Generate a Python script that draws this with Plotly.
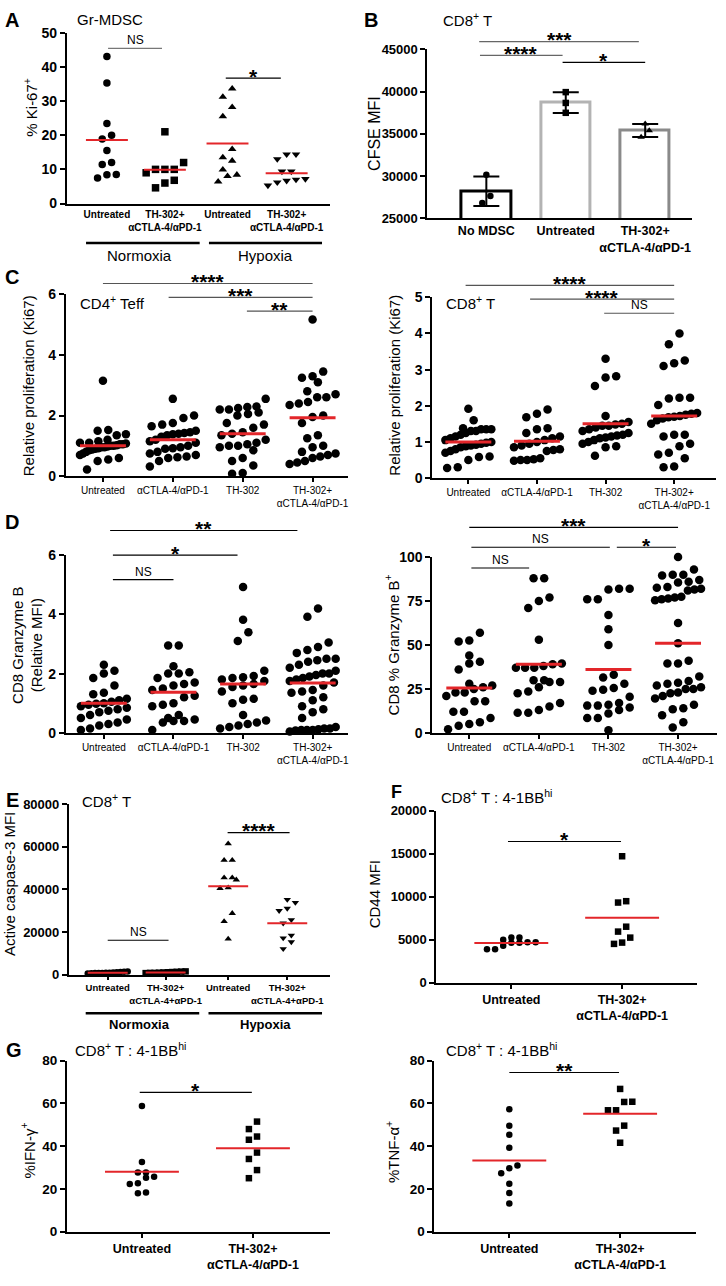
import plotly.graph_objects as go

W, H = 726, 1286
FONT = "Liberation Sans, Arial, sans-serif"
RED = "#e3262a"
TH_LBL = "TH-302+<br>αCTLA-4/αPD-1"

# ---------------- data ----------------
# A: Gr-MDSC %Ki-67+
a_labels = ["Untreated", TH_LBL, "Untreated", TH_LBL]
a_norm_untr = [43, 35.3, 23.4, 20, 18.9, 15.5, 12, 11.4, 8.5, 7.5, 8.4]
a_norm_th = [21, 12, 10, 10, 10, 9, 6.8, 6, 4.6]
a_hyp_untr = [31.2, 33.6, 28.2, 25.5, 15.9, 13.5, 12.5, 9.9, 8.4, 8.0, 6.4]
a_hyp_th = [14.4, 14.4, 13, 9.4, 9.4, 7.2, 7, 6.7, 5.3, 6.2]
a_means = [18.6, 9.9, 17.6, 8.9]

# B: CFSE MFI
b_labels = ["No MDSC", "Untreated", TH_LBL]
b_no_mdsc = [30160, 27640, 26830]
b_untr = [39950, 38670, 37500]
b_th = [36200, 35400, 34630]
b_means = [28200, 38700, 35400]
b_sd = [1750, 1230, 780]

# C: relative proliferation (Ki67)
c_labels = ["Untreated", "αCTLA-4/αPD-1", "TH-302", TH_LBL]
c4_untr = [3.15, 1.52, 1.5, 1.38, 1.35, 1.2, 1.15, 1.1, 1.1, 1.08, 1.05, 1.05, 1.02, 1.0, 1.0,
           0.98, 0.95, 0.95, 0.92, 0.9, 0.88, 0.85, 0.8, 0.75, 0.7, 0.6, 0.55, 0.5, 0.22]
c4_ctla = [2.55, 2.0, 1.92, 1.75, 1.7, 1.65, 1.5, 1.45, 1.42, 1.4, 1.38, 1.35, 1.3, 1.2, 1.15,
           1.1, 1.0, 0.95, 0.92, 0.9, 0.8, 0.75, 0.7, 0.65, 0.62, 0.6, 0.5, 0.32]
c4_th = [2.55, 2.3, 2.28, 2.25, 2.2, 2.2, 2.1, 2.05, 2.0, 1.75, 1.7, 1.6, 1.45, 1.4, 1.35, 1.2,
         1.1, 1.05, 1.0, 1.0, 0.95, 0.85, 0.6, 0.5, 0.35, 0.1, 0.08]
c4_combo = [5.17, 3.45, 3.3, 3.25, 3.1, 2.8, 2.7, 2.6, 2.6, 2.45, 2.4, 2.35, 2.0, 1.95, 1.75,
            1.35, 1.25, 1.0, 0.95, 0.8, 0.75, 0.7, 0.65, 0.6, 0.5, 0.45, 0.4]
c4_means = [1.0, 1.2, 1.4, 1.93]

c8_untr = [1.92, 1.6, 1.38, 1.35, 1.35, 1.35, 1.3, 1.3, 1.25, 1.2, 1.15, 1.1, 1.05, 1.0, 0.98,
           0.95, 0.92, 0.9, 0.88, 0.85, 0.8, 0.75, 0.7, 0.6, 0.58, 0.5, 0.3, 0.28]
c8_ctla = [1.9, 1.78, 1.68, 1.38, 1.35, 1.25, 1.15, 1.1, 1.05, 1.0, 0.95, 0.9, 0.85, 0.8, 0.78,
           0.75, 0.55, 0.52, 0.5, 0.5, 0.48]
c8_th = [3.3, 2.82, 2.78, 2.55, 1.72, 1.55, 1.5, 1.48, 1.45, 1.45, 1.4, 1.35, 1.3, 1.25, 1.2,
         1.18, 1.15, 1.12, 1.1, 1.05, 1.0, 0.95, 0.88, 0.85, 0.62]
c8_combo = [4.0, 3.7, 3.25, 3.1, 3.18, 2.22, 2.2, 2.22, 2.02, 1.8, 1.78, 1.75, 1.72, 1.7, 1.68,
            1.65, 1.6, 1.5, 1.2, 1.2, 1.15, 0.95, 0.88, 0.7, 0.65, 0.55, 0.32, 0.3]
c8_means = [1.0, 1.02, 1.5, 1.72]

# D: granzyme B
d_labels = c_labels
dg_untr = [2.3, 2.1, 2.0, 1.85, 1.6, 1.35, 1.3, 1.15, 1.1, 1.05, 1.0, 0.98, 0.95, 0.9, 0.85,
           0.8, 0.75, 0.7, 0.6, 0.5, 0.45, 0.35, 0.3, 0.25, 0.15, 0.1]
dg_ctla = [2.95, 2.95, 2.25, 2.05, 2.0, 2.0, 1.85, 1.7, 1.65, 1.6, 1.5, 1.45, 1.25, 1.2, 1.0,
           0.95, 0.9, 0.6, 0.5, 0.45, 0.4, 0.4, 0.35, 0.1]
dg_th = [4.92, 3.82, 3.4, 3.1, 2.1, 1.92, 1.88, 1.85, 1.8, 1.75, 1.65, 1.6, 1.55, 1.4, 1.15,
         1.12, 1.0, 0.6, 0.42, 0.35, 0.3, 0.25, 0.2, 0.15]
dg_combo = [4.2, 3.92, 3.05, 2.9, 2.8, 2.7, 2.5, 2.5, 2.45, 2.4, 2.3, 2.2, 2.1, 2.0, 2.0, 1.95,
            1.9, 1.85, 1.8, 1.75, 1.7, 1.6, 1.45, 1.4, 1.35, 1.2, 1.1, 0.9, 0.8, 0.7, 0.5, 0.2,
            0.15, 0.15, 0.12, 0.1, 0.1, 0.1, 0.08, 0.05]
dg_means = [1.0, 1.37, 1.65, 1.68]

dp_untr = [57, 52.5, 52, 44, 40.5, 39.5, 36, 28, 27, 26, 25, 23, 23, 21, 18, 18, 12, 12, 8.5,
           6, 5, 4, 2]
dp_ctla = [88, 88, 77, 75, 71, 53, 39.5, 39, 38, 37, 37, 37, 30, 30, 29, 29, 26, 23.5, 22.5, 17,
           15, 13, 11.5, 11.5]
dp_th = [82, 82, 81.5, 76, 76, 67, 59, 50, 33, 31.5, 28, 25.5, 24.5, 24, 20.5, 17, 16, 15.5,
         15.5, 14.5, 13, 11, 8.5, 8.5, 1.5]
dp_combo = [100, 93, 90, 90, 89.5, 87, 86, 85.5, 83, 82.5, 82, 81.5, 81, 77.5, 77, 76.5, 76,
            75.5, 62.5, 51, 41, 39.5, 39.5, 32, 29.5, 28.5, 28, 27, 26, 25, 25, 23, 22.5, 21,
            19.5, 16, 14, 13.5, 10, 6, 3]
dp_means = [25.5, 39, 36, 51]

# E: active caspase-3 MFI
e_labels = ["Untreated", "TH-302+<br>αCTLA-4+αPD-1", "Untreated", "TH-302+<br>αCTLA-4+αPD-1"]
e_norm_untr = [1500, 1400, 1300, 1200, 1100, 1000, 1000, 900, 800, 800, 700, 600]
e_norm_th = [1600, 1500, 1400, 1300, 1200, 1100, 1000, 900, 900, 800]
e_hyp_untr = [61400, 53700, 53700, 44500, 45500, 45500, 40500, 40800, 28800, 25000, 16800]
e_hyp_th = [35250, 33860, 31090, 30020, 24160, 25730, 18480, 17230, 15380, 12150]
e_means = [1000, 1100, 41500, 24200]

# F: CD44 MFI
f_labels = ["Untreated", TH_LBL]
f_untr = [4700, 4650, 4300, 5250, 5250, 3900, 3900, 4650, 4700, 5000]
f_th = [14720, 9330, 9490, 6520, 5950, 5250, 4520, 4670]
f_means = [4630, 7560]

# G: %IFN-g+ and %TNF-a+
g_labels = f_labels
g_ifn_untr = [58.8, 32.6, 27.7, 27.7, 25.7, 25.2, 22.3, 22.6, 18, 18.3]
g_ifn_th = [51.5, 48, 44.5, 43, 37, 34, 28.8, 25]
g_ifn_means = [28, 39]
g_tnf_untr = [57.3, 49.6, 45.3, 39.3, 30.9, 29.6, 27.3, 22.4, 18.1, 13.2]
g_tnf_th = [66.8, 60.7, 60.8, 56.8, 56.8, 49.6, 47.3, 41.6]
g_tnf_means = [33.3, 55.2]

# ---------------- panel geometry (pixels) ----------------
panels = {
    "A": dict(idx=1, box=(67, 330, 25, 198), xr=(-0.69, 3.84), yr=(0, 50), pos=[0, 1, 2.08, 3.1]),
    "B": dict(idx=2, box=(428, 693, 42, 213), xr=(-0.742, 2.59), yr=(25000, 45000), pos=[0, 1, 2]),
    "C1": dict(idx=3, box=(66, 348, 290, 474), xr=(-0.53, 3.5), yr=(0, 6), pos=[0, 1, 2, 3]),
    "C2": dict(idx=4, box=(433, 717, 293, 476), xr=(-0.524, 3.61), yr=(0, 5), pos=[0, 1, 2, 3]),
    "D1": dict(idx=5, box=(66, 348, 554, 734), xr=(-0.545, 3.5), yr=(0, 6), pos=[0, 1, 2, 3]),
    "D2": dict(idx=6, box=(433, 718, 556, 734), xr=(-0.53, 3.56), yr=(0, 100), pos=[0, 1, 2, 3]),
    "E": dict(idx=7, box=(69, 330, 806, 979), xr=(-0.67, 3.83), yr=(0, 80000), pos=[0, 1, 2.08, 3.1]),
    "F": dict(idx=8, box=(437, 698, 813, 987), xr=(-0.676, 1.676), yr=(0, 20000), pos=[0, 1]),
    "G1": dict(idx=9, box=(67, 330, 1066, 1239), xr=(-0.676, 1.69), yr=(0, 80), pos=[0, 1]),
    "G2": dict(idx=10, box=(435, 697, 1066, 1239), xr=(-0.676, 1.685), yr=(0, 80), pos=[0, 1]),
}


def sfx(p):
    return "" if p["idx"] == 1 else str(p["idx"])


def scales(p):
    l, r, t, b = p["box"]
    x0, x1 = p["xr"]
    y0, y1 = p["yr"]
    return (r - l) / (x1 - x0), (b - t) / (y1 - y0)


def to_paper(p, xv, yv):
    l, r, t, b = p["box"]
    xpx, ypx = scales(p)
    px = l + (xv - p["xr"][0]) * xpx
    py = b - (yv - p["yr"][0]) * ypx
    return px / W, 1 - py / H


def swarm_offsets(vals, ypx, xpx, dot, max_w):
    # Prism-like column scatter: rows of near-equal values spread symmetrically
    order = sorted(range(len(vals)), key=lambda i: vals[i])
    off = [0.0] * len(vals)
    rows = []
    for i in order:
        if rows and (vals[i] - vals[rows[-1][0]]) * ypx < dot * 1.4:
            rows[-1].append(i)
        else:
            rows.append([i])
    for row in rows:
        k = len(row)
        step = min(dot * 1.25, max_w / (k - 1)) if k > 1 else 0
        for j, i in enumerate(row):
            off[i] = (j - (k - 1) / 2) * step / xpx
    return off


fig = go.Figure()
shapes = []
annotations = []


def setup_axes(p, labels, yticks, ytick_size, xtick_size, xtick_bold, xticklen):
    l, r, t, b = p["box"]
    s = sfx(p)
    fig.update_layout({
        "xaxis" + s: dict(domain=[l / W, r / W], range=list(p["xr"]), anchor="y" + s,
                          showline=True, linecolor="black", linewidth=2, showgrid=False,
                          zeroline=False, tickmode="array", tickvals=p["pos"], ticktext=labels,
                          tickangle=0,
                          ticks="outside" if xticklen else "", ticklen=xticklen, tickwidth=2,
                          tickcolor="black",
                          tickfont=dict(family=FONT, size=xtick_size, color="black",
                                        weight="bold" if xtick_bold else "normal"),
                          fixedrange=True),
        "yaxis" + s: dict(domain=[1 - b / H, 1 - t / H], range=list(p["yr"]), anchor="x" + s,
                          showline=True, linecolor="black", linewidth=2, showgrid=False,
                          zeroline=False, tickmode="array", tickvals=yticks,
                          ticktext=[str(v) for v in yticks], ticks="outside",
                          ticklen=5, tickwidth=2, tickcolor="black",
                          tickfont=dict(family=FONT, size=ytick_size, color="black", weight="bold"),
                          fixedrange=True),
    })


def add_dots(p, groups, symbols, size, max_w, means, mean_hw, mean_w):
    s = sfx(p)
    xpx, ypx = scales(p)
    for pos, vals, sym in zip(p["pos"], groups, symbols):
        off = swarm_offsets(vals, ypx, xpx, size, max_w)
        fig.add_trace(go.Scatter(x=[pos + o for o in off], y=vals, mode="markers",
                                 marker=dict(symbol=sym, size=size, color="black", line=dict(width=0)),
                                 xaxis="x" + s, yaxis="y" + s, cliponaxis=False, hoverinfo="skip"))
    hw = mean_hw / xpx
    for pos, m in zip(p["pos"], means):
        fig.add_trace(go.Scatter(x=[pos - hw, pos + hw], y=[m, m], mode="lines",
                                 line=dict(color=RED, width=mean_w),
                                 xaxis="x" + s, yaxis="y" + s, hoverinfo="skip"))


def bracket(p, x0, x1, y, label, color="black", lw=1.2):
    ax, ay = to_paper(p, x0, y)
    bx, _ = to_paper(p, x1, y)
    shapes.append(dict(type="line", xref="paper", yref="paper", x0=ax, x1=bx, y0=ay, y1=ay,
                       line=dict(color=color, width=lw)))
    if label == "NS":
        font = dict(family=FONT, size=12, color="black")
        shift = 8
    else:
        font = dict(family=FONT, size=21, color="black", weight="bold")
        shift = 2
    annotations.append(dict(x=(ax + bx) / 2, y=ay, xref="paper", yref="paper", text=label,
                            showarrow=False, font=font, xanchor="center", yanchor="middle",
                            yshift=shift))


def text(px, py, s, size, bold=False, xanchor="left", angle=0):
    annotations.append(dict(x=px / W, y=1 - py / H, xref="paper", yref="paper", text=s,
                            showarrow=False, textangle=angle, xanchor=xanchor, yanchor="middle",
                            font=dict(family=FONT, size=size, color="black",
                                      weight="bold" if bold else "normal")))


def group_bar(p, x0, x1, py):
    a, _ = to_paper(p, x0, p["yr"][0])
    b, _ = to_paper(p, x1, p["yr"][0])
    shapes.append(dict(type="line", xref="paper", yref="paper", x0=a, x1=b,
                       y0=1 - py / H, y1=1 - py / H, line=dict(color="black", width=2.5)))


# ---------------- A ----------------
p = panels["A"]
setup_axes(p, a_labels, [0, 10, 20, 30, 40, 50], 14, 10, True, 0)
add_dots(p, [a_norm_untr, a_norm_th, a_hyp_untr, a_hyp_th],
         ["circle", "square", "triangle-up", "triangle-down"], 7.5, 40, a_means, 21, 2)
bracket(p, 0.02, 0.95, 45.4, "NS", color="#777777")
bracket(p, 2.05, 3.0, 36.7, "*")
group_bar(p, -0.36, 1.6, 238)
group_bar(p, 1.76, 3.71, 238)
text(140, 251, "Normoxia", 15, xanchor="center")
text(266, 251, "Hypoxia", 15, xanchor="center")
text(3, 12, "A", 20, bold=True)
text(75, 12, "Gr-MDSC", 15)
text(31, 100, "% Ki-67<sup>+</sup>", 15, xanchor="center", angle=-90)

# ---------------- B ----------------
p = panels["B"]
setup_axes(p, b_labels, [25000, 30000, 35000, 40000, 45000], 13, 12.5, True, 0)
fig.add_trace(go.Bar(x=p["pos"], y=b_means, width=0.62, xaxis="x2", yaxis="y2",
                     marker=dict(color="white", line=dict(color=["black", "#b3b3b3", "#8a8a8a"], width=3)),
                     error_y=dict(type="data", array=b_sd, color="black", thickness=2, width=13),
                     hoverinfo="skip"))
add_dots(p, [b_no_mdsc, b_untr, b_th], ["circle", "square", "triangle-up"], 6.5, 30,
         [], 0, 0)
bracket(p, -0.09, 1.92, 45936, "***", color="#666666")
bracket(p, -0.08, 0.96, 44298, "****", color="#666666")
bracket(p, 0.96, 2.0, 43480, "*")
text(362, 12, "B", 20, bold=True)
text(442, 12, "CD8<sup>+</sup> T", 15)
text(375, 127, "CFSE MFI", 16, xanchor="center", angle=-90)

# ---------------- C ----------------
p = panels["C1"]
setup_axes(p, c_labels, [0, 2, 4, 6], 14, 10, False, 4)
add_dots(p, [c4_untr, c4_ctla, c4_th, c4_combo], ["circle"] * 4, 8.5, 46, c4_means, 23, 3)
bracket(p, 0.0, 3.0, 6.36, "****", color="#555555")
bracket(p, 0.94, 3.0, 5.90, "***", color="#555555")
bracket(p, 2.06, 3.0, 5.45, "**", color="#555555")
text(3, 272, "C", 20, bold=True)
text(78, 298, "CD4<sup>+</sup> Teff", 15)
text(28, 382, "Relative proliferation (Ki67)", 15, xanchor="center", angle=-90)

p = panels["C2"]
setup_axes(p, c_labels, [0, 1, 2, 3, 4, 5], 14, 10, False, 4)
add_dots(p, [c8_untr, c8_ctla, c8_th, c8_combo], ["circle"] * 4, 8.5, 46, c8_means, 23, 3)
bracket(p, -0.04, 3.0, 5.33, "****", color="#555555")
bracket(p, 0.9, 3.0, 4.95, "****", color="#555555")
bracket(p, 1.98, 3.0, 4.56, "NS", color="#555555")
text(445, 298, "CD8<sup>+</sup> T", 15)
text(395, 382, "Relative proliferation (Ki67)", 15, xanchor="center", angle=-90)

# ---------------- D ----------------
p = panels["D1"]
setup_axes(p, d_labels, [0, 2, 4, 6], 14, 10, False, 4)
add_dots(p, [dg_untr, dg_ctla, dg_th, dg_combo], ["circle"] * 4, 8.5, 46, dg_means, 23, 3)
bracket(p, 0.09, 2.78, 6.83, "**")
bracket(p, 0.13, 1.92, 6.0, "*")
bracket(p, 0.13, 1.0, 5.17, "NS")
text(3, 520, "D", 20, bold=True)
text(28, 645, "CD8 Granzyme B<br>(Relative MFI)", 15, xanchor="center", angle=-90)

p = panels["D2"]
setup_axes(p, d_labels, [0, 25, 50, 75, 100], 14, 10, False, 4)
add_dots(p, [dp_untr, dp_ctla, dp_th, dp_combo], ["circle"] * 4, 8.5, 46, dp_means, 23, 3)
bracket(p, 0.0, 3.0, 116.9, "***")
bracket(p, 0.03, 2.02, 105.6, "NS")
bracket(p, 2.12, 2.97, 105.6, "*")
bracket(p, 0.03, 0.86, 93.8, "NS")
text(393, 645, "CD8 % Granzyme B<sup>+</sup>", 15, xanchor="center", angle=-90)

# ---------------- E ----------------
p = panels["E"]
setup_axes(p, e_labels, [0, 20000, 40000, 60000, 80000], 13, 9.5, True, 3)
add_dots(p, [e_norm_untr, e_norm_th, e_hyp_untr, e_hyp_th],
         ["circle", "square", "triangle-up", "triangle-down"], 6.5, 40, e_means, 20, 2)
bracket(p, 2.07, 3.14, 66590, "****")
bracket(p, 0.0, 1.05, 16185, "NS")
group_bar(p, -0.38, 1.58, 1018)
group_bar(p, 1.74, 3.7, 1018)
text(140, 1029, "Normoxia", 13, bold=True, xanchor="center")
text(266, 1029, "Hypoxia", 13, bold=True, xanchor="center")
text(4, 802, "E", 20, bold=True)
text(80, 802, "CD8<sup>+</sup> T", 15)
text(10, 887, "Active caspase-3 MFI", 15, xanchor="center", angle=-90)

# ---------------- F ----------------
p = panels["F"]
setup_axes(p, f_labels, [0, 5000, 10000, 15000, 20000], 13, 12.5, True, 4)
add_dots(p, [f_untr, f_th], ["circle", "square"], 6.5, 70, f_means, 37, 2)
bracket(p, -0.03, 0.99, 16437, "*")
text(390, 794, "F", 18, bold=True)
text(440, 798, "CD8<sup>+</sup> T : 4-1BB<sup>hi</sup>", 15)
text(375, 897, "CD44 MFI", 15, xanchor="center", angle=-90)

# ---------------- G ----------------
p = panels["G1"]
setup_axes(p, g_labels, [0, 20, 40, 60, 80], 13.5, 12.5, True, 4)
add_dots(p, [g_ifn_untr, g_ifn_th], ["circle", "square"], 6.5, 70, g_ifn_means, 37, 2)
bracket(p, -0.02, 0.99, 65.2, "*")
text(4, 1055, "G", 20, bold=True)
text(73, 1055, "CD8<sup>+</sup> T : 4-1BB<sup>hi</sup>", 15)
text(28, 1157, "%IFN-γ<sup>+</sup>", 15, xanchor="center", angle=-90)

p = panels["G2"]
setup_axes(p, g_labels, [0, 20, 40, 60, 80], 13.5, 12.5, True, 4)
add_dots(p, [g_tnf_untr, g_tnf_th], ["circle", "square"], 6.5, 70, g_tnf_means, 37, 2)
bracket(p, 0.0, 0.99, 74.5, "**")
text(445, 1055, "CD8<sup>+</sup> T : 4-1BB<sup>hi</sup>", 15)
text(393, 1158, "%TNF-α<sup>+</sup>", 15, xanchor="center", angle=-90)

fig.update_layout(width=W, height=H, margin=dict(l=0, r=0, t=0, b=0),
                  paper_bgcolor="white", plot_bgcolor="white", showlegend=False,
                  shapes=shapes, annotations=annotations, bargap=0,
                  font=dict(family=FONT, color="black"))
# drop the browser's default 8px body margin so the figure sits at the page origin
fig.write_html("out.html", config={"displayModeBar": False},
               post_script="document.body.style.margin = '0';")
